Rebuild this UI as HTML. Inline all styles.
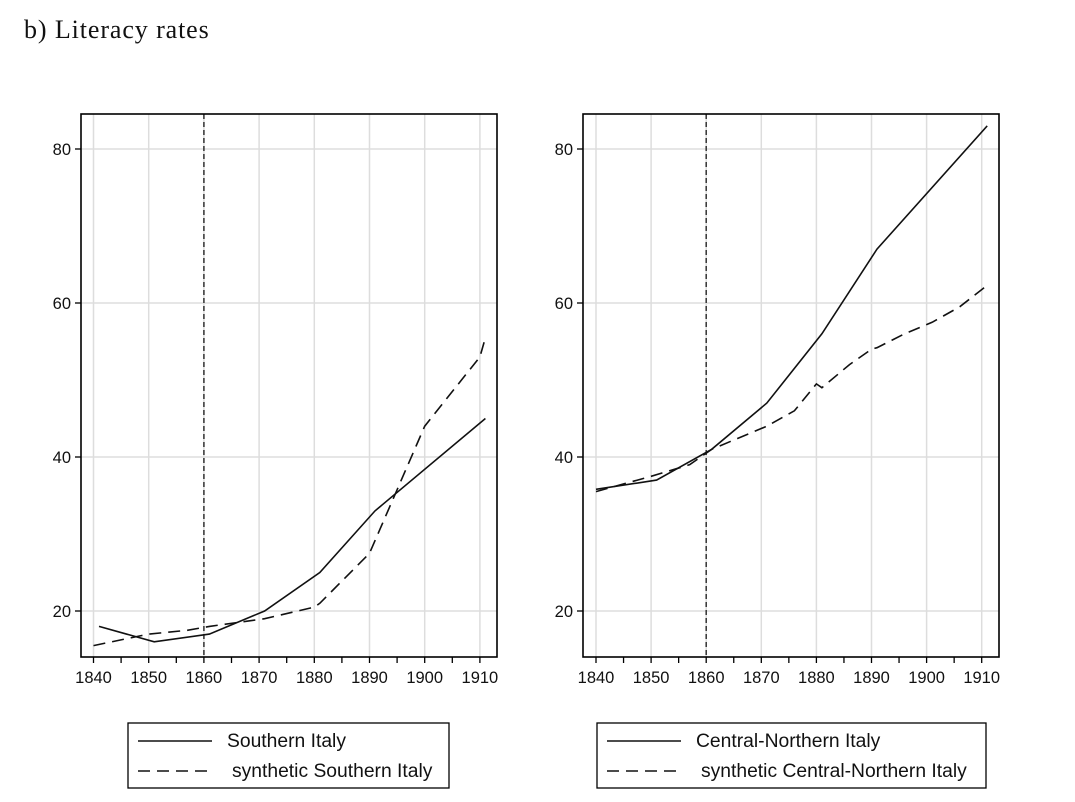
<!DOCTYPE html>
<html><head><meta charset="utf-8"><style>
html,body{margin:0;padding:0;background:#fff;width:1075px;height:802px;overflow:hidden}
svg{display:block}
</style></head><body>
<svg id="s" width="1075" height="802" xmlns="http://www.w3.org/2000/svg" font-family="Liberation Sans, sans-serif">
<text x="24" y="38" font-family="Liberation Serif, serif" font-size="26" letter-spacing="0.9" fill="#111">b) Literacy rates</text>
</svg>
<script>
const s=document.getElementById('s');let h='';
function panel(L,R,x1840,dec,solid,dash,lab){
 const T=114,B=657,X=y=>x1840+(y-1840)/10*dec,Y=v=>611-(v-20)/20*154;
 for(let v=20;v<=80;v+=20){h+=`<line x1="${L}" x2="${R}" y1="${Y(v)}" y2="${Y(v)}" stroke="#ddd" stroke-width="1.5"/>`;
  h+=`<line x1="${L-6}" x2="${L}" y1="${Y(v)}" y2="${Y(v)}" stroke="#000" stroke-width="1.3"/>`;
  h+=`<text x="${L-10}" y="${Y(v)+6}" font-size="16.5" text-anchor="end" fill="#111">${v}</text>`;}
 for(let y=1840;y<=1910;y+=10){h+=`<line x1="${X(y)}" x2="${X(y)}" y1="${T}" y2="${B}" stroke="#ddd" stroke-width="1.5"/>`;
  h+=`<text x="${X(y)}" y="${B+26}" font-size="16.5" text-anchor="middle" fill="#111">${y}</text>`;}
 for(let y=1840;y<=1910;y+=5)h+=`<line x1="${X(y)}" x2="${X(y)}" y1="${B}" y2="${B+6}" stroke="#000" stroke-width="1.3"/>`;
 h+=`<line x1="${X(1860)}" x2="${X(1860)}" y1="${T}" y2="${B}" stroke="#333" stroke-width="1.5" stroke-dasharray="5,3"/>`;
 const pts=a=>a.map(p=>X(p[0]).toFixed(1)+','+Y(p[1]).toFixed(1)).join(' ');
 h+=`<polyline points="${pts(solid)}" fill="none" stroke="#111" stroke-width="1.6"/>`;
 h+=`<polyline points="${pts(dash)}" fill="none" stroke="#111" stroke-width="1.6" stroke-dasharray="12,7"/>`;
 h+=`<rect x="${L}" y="${T}" width="${R-L}" height="${B-T}" fill="none" stroke="#000" stroke-width="1.6"/>`;
 const lx=lab[0],lw=lab[1];
 h+=`<rect x="${lx}" y="723" width="${lw}" height="65" fill="none" stroke="#000" stroke-width="1.3"/>`;
 h+=`<line x1="${lx+10}" x2="${lx+84}" y1="741" y2="741" stroke="#111" stroke-width="1.6"/>`;
 h+=`<line x1="${lx+10}" x2="${lx+84}" y1="771" y2="771" stroke="#111" stroke-width="1.6" stroke-dasharray="12,7"/>`;
 h+=`<text x="${lx+99}" y="747" font-size="19.3" fill="#111">${lab[2]}</text>`;
 h+=`<text x="${lx+104}" y="777" font-size="19.3" fill="#111">${lab[3]}</text>`;
}
panel(81,497,93.5,55.2,
 [[1841,18],[1851,16],[1861,17],[1871,20],[1881,25],[1891,33],[1911,45]],
 [[1840,15.5],[1850,17],[1857,17.5],[1861,18],[1871,19],[1880,20.5],[1881,21],[1890,27.5],[1900,44],[1910,53],[1911,55.5]],
 [128,321,'Southern Italy','synthetic Southern Italy']);
panel(583,999,596,55.1,
 [[1840,35.8],[1851,37],[1861,41],[1871,47],[1881,56],[1891,67],[1911,83]],
 [[1840,35.5],[1850,37.5],[1857,39],[1861,41],[1871,44],[1876,46],[1880,49.5],[1881,49],[1886,52],[1890,54],[1891,54.2],[1896,56],[1901,57.5],[1906,59.5],[1911,62.3]],
 [597,389,'Central-Northern Italy','synthetic Central-Northern Italy']);
s.insertAdjacentHTML('beforeend',h);
</script>
</body></html>
